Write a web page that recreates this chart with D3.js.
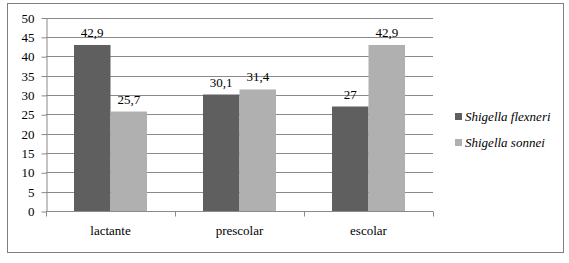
<!DOCTYPE html>
<html><head><meta charset="utf-8">
<script src="https://cdn.jsdelivr.net/npm/d3@7"></script>
<style>body{margin:0;background:#fff}svg{display:block}</style>
</head><body>
<script>
const categories = ["lactante", "prescolar", "escolar"];
const seriesNames = ["Shigella flexneri", "Shigella sonnei"];
const flexneri = [42.9, 30.1, 27];
const sonnei = [25.7, 31.4, 42.9];
const valueLabels = [["42,9","30,1","27"],["25,7","31,4","42,9"]];
const yTicks = [0,5,10,15,20,25,30,35,40,45,50];
const colors = ["#5f5f5f", "#b0b0b0"];

const W = 569, H = 263;
const svg = d3.select("body").append("svg").attr("width", W).attr("height", H);
const font = "'Liberation Serif','Times New Roman',serif";

svg.append("rect").attr("x", 7.5).attr("y", 3.5).attr("width", 556).attr("height", 249)
  .attr("fill", "none").attr("stroke", "#7f7f7f").attr("stroke-width", 1);

const x0 = 46, x1 = 433, yTop = 17.5, yBot = 211;
const x = d3.scaleBand().domain(categories).range([x0, x1]).paddingInner(0.434).paddingOuter(0.217);
const xs = d3.scaleBand().domain([0,1]).range([0, x.bandwidth()]);
const y = d3.scaleLinear().domain([0, 50]).range([yBot, yTop]);

// gridlines
svg.append("g").selectAll("line").data(yTicks.filter(d => d > 0)).join("line")
  .attr("x1", x0).attr("x2", x1).attr("y1", d => Math.round(y(d)) + 0.5).attr("y2", d => Math.round(y(d)) + 0.5)
  .attr("stroke", "#8a8a8a").attr("stroke-width", 1);

// y axis
const yAxis = d3.axisLeft(y).tickValues(yTicks).tickSize(5).tickPadding(7).tickSizeOuter(0);
const gy = svg.append("g").attr("transform", `translate(${x0 + 0.5},0.5)`).call(yAxis);
gy.selectAll("text").attr("font-family", font).attr("font-size", 13).attr("fill", "#000");
gy.selectAll("line,path").attr("stroke", "#8a8a8a");

// x axis
const gx = svg.append("g").attr("transform", `translate(0,${Math.round(yBot) + 0.5})`);
gx.append("line").attr("x1", x0).attr("x2", x1).attr("stroke", "#8a8a8a");
const step = (x1 - x0) / categories.length;
gx.selectAll("line.t").data(d3.range(categories.length + 1)).join("line").attr("class","t")
  .attr("x1", i => Math.round(x0 + i * step) + 0.5).attr("x2", i => Math.round(x0 + i * step) + 0.5)
  .attr("y1", 0).attr("y2", 5).attr("stroke", "#8a8a8a");
gx.selectAll("text").data(categories).join("text")
  .attr("x", d => x(d) + x.bandwidth() / 2).attr("y", 23)
  .attr("text-anchor", "middle").attr("font-family", font).attr("font-size", 13).text(d => d);

// bars
const series = [flexneri, sonnei];
series.forEach((vals, si) => {
  const g = svg.append("g");
  g.selectAll("rect").data(vals).join("rect")
    .attr("x", (d, i) => x(categories[i]) + xs(si)).attr("width", xs.bandwidth())
    .attr("y", d => y(d)).attr("height", d => y(0) - y(d)).attr("fill", colors[si]);
  g.selectAll("text").data(vals).join("text")
    .attr("x", (d, i) => x(categories[i]) + xs(si) + xs.bandwidth() / 2)
    .attr("y", d => y(d) - 8).attr("text-anchor", "middle")
    .attr("font-family", font).attr("font-size", 13).text((d, i) => valueLabels[si][i]);
});

// legend
const lg = svg.append("g").attr("transform", "translate(455,113)");
seriesNames.forEach((n, i) => {
  lg.append("rect").attr("x", 0).attr("y", i * 26).attr("width", 7).attr("height", 7).attr("fill", colors[i]);
  lg.append("text").attr("x", 10).attr("y", i * 26 + 7.5).attr("font-family", font)
    .attr("font-style", "italic").attr("font-size", 13).text(n);
});
</script>
</body></html>
